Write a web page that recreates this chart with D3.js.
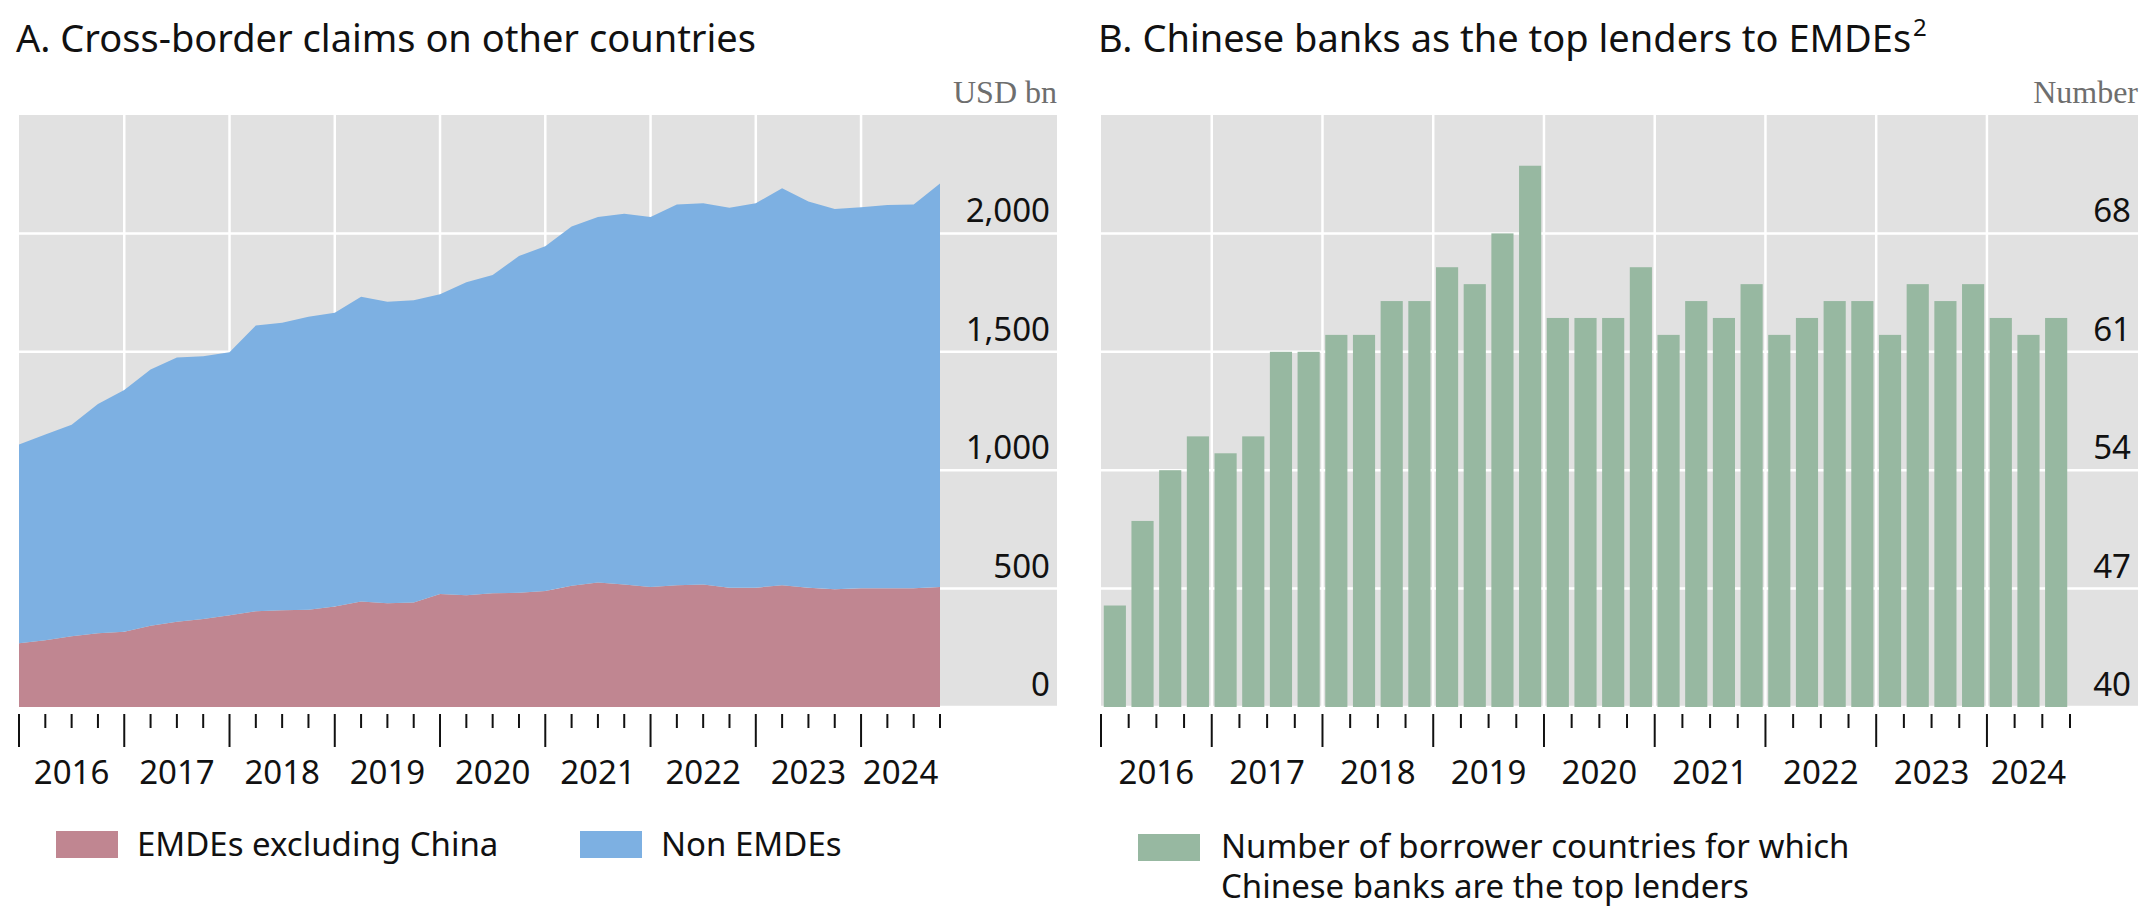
<!DOCTYPE html>
<html lang="en">
<head>
<meta charset="UTF-8">
<title>Chinese banks cross-border lending</title>
<script src="https://d3js.org/d3.v7.min.js"></script>
<style>
  body { margin: 0; background: #fff; font-family: "Noto Sans", "Open Sans", sans-serif; }
  .unit { font-family: "Liberation Serif", serif; fill: #6e6e6e; }
</style>
</head>
<body>
<div id="chart"></div>
<script>
// quarterly, 2016Q1 .. 2024Q4 (panel A), USD bn
const emdeExChina = [269, 282, 299, 311, 318, 343, 360, 372, 387, 404, 409, 411,
  424, 446, 438, 441, 477, 472, 480, 482, 490, 512, 526, 517,
  507, 514, 517, 504, 504, 514, 504, 497, 502, 502, 502, 507];
const totalClaims = [1109, 1151, 1192, 1280, 1339, 1425, 1476, 1481, 1498, 1611, 1623, 1648,
  1665, 1733, 1711, 1718, 1743, 1794, 1824, 1905, 1946, 2029, 2069, 2083,
  2069, 2122, 2127, 2108, 2127, 2191, 2135, 2103, 2110, 2120, 2122, 2211];
const nonEmde = totalClaims.map((t, i) => t - emdeExChina[i]);

// quarterly, 2016Q1 .. 2024Q3 (panel B)
const topLenderCount = [46, 51, 54, 56, 55, 56, 61, 61, 62, 62, 64, 64,
  66, 65, 68, 72, 63, 63, 63, 66, 62, 64, 63, 65,
  62, 63, 64, 64, 62, 65, 64, 65, 63, 62, 63];

const years = ["2016", "2017", "2018", "2019", "2020", "2021", "2022", "2023", "2024"];
const ticksA = [0, 500, 1000, 1500, 2000];
const ticksB = [40, 47, 54, 61, 68];

const BG = "#e1e1e1", BLUE = "#7db0e2", RED = "#c08691", GREEN = "#97b8a1";

const svg = d3.select("#chart").append("svg")
    .attr("width", 2142).attr("height", 906);

const plotTop = 115, plotBottom = 707, tickFont = 33;

function frame(x0, x1, title, unit) {
    svg.append("rect").attr("x", x0).attr("y", plotTop)
        .attr("width", x1 - x0).attr("height", plotBottom - plotTop).attr("fill", BG);
    const t = svg.append("text").attr("x", x0 - 3).attr("y", 52)
        .attr("font-size", 38).attr("fill", "#111").text(title);
    svg.append("text").attr("class", "unit").attr("x", x1).attr("y", 103)
        .attr("text-anchor", "end").attr("font-size", 32).text(unit);
    return t;
}

function yearTicks(g, positions, yearStep) {
    positions.forEach((x, i) => {
        const major = i % yearStep === 0;
        g.append("line").attr("x1", x).attr("x2", x)
            .attr("y1", 714).attr("y2", major ? 747 : 728)
            .attr("stroke", "#111").attr("stroke-width", 2);
    });
}

// ---------- Panel A ----------
{
    const x0 = 19, xEnd = 940, x1 = 1057;
    frame(x0, x1, "A. Cross-border claims on other countries", "USD bn");
    const x = d3.scaleLinear().domain([0, 35]).range([x0, xEnd]);
    const y = d3.scaleLinear().domain([0, 2500]).range([plotBottom, plotTop]);

    ticksA.forEach(t => {
        svg.append("line").attr("x1", x0).attr("x2", x1)
            .attr("y1", y(t)).attr("y2", y(t)).attr("stroke", "#fff").attr("stroke-width", 2.5);
    });
    for (let i = 4; i < 36; i += 4) {
        svg.append("line").attr("x1", x(i)).attr("x2", x(i))
            .attr("y1", plotTop).attr("y2", plotBottom).attr("stroke", "#fff").attr("stroke-width", 2.5);
    }

    const stacked = d3.stack().keys(["emde", "non"])(
        emdeExChina.map((e, i) => ({ emde: e, non: nonEmde[i] })));
    const area = d3.area().x((d, i) => x(i)).y0(d => y(d[0])).y1(d => y(d[1]));
    svg.selectAll(".areaA").data(stacked).enter().append("path")
        .attr("d", area).attr("fill", (d, i) => i === 0 ? RED : BLUE);

    ticksA.forEach(t => {
        svg.append("text").attr("x", 1050).attr("y", y(t) - 11)
            .attr("text-anchor", "end").attr("font-size", tickFont).attr("fill", "#111")
            .text(d3.format(",")(t));
    });

    const g = svg.append("g");
    yearTicks(g, d3.range(36).map(x), 4);
    years.forEach((yr, i) => {
        const xs = x(i * 4), xe = i === 8 ? xEnd : x(i * 4 + 4);
        svg.append("text").attr("x", (xs + xe) / 2).attr("y", 784)
            .attr("text-anchor", "middle").attr("font-size", tickFont).attr("fill", "#111").text(yr);
    });

    const legA = [["EMDEs excluding China", RED, 56], ["Non EMDEs", BLUE, 580]];
    legA.forEach(([label, c, lx]) => {
        svg.append("rect").attr("x", lx).attr("y", 831).attr("width", 62).attr("height", 27).attr("fill", c);
        svg.append("text").attr("x", lx + 81).attr("y", 856)
            .attr("font-size", tickFont).attr("fill", "#111").text(label);
    });
}

// ---------- Panel B ----------
{
    const x0 = 1101, xEnd = 2070, x1 = 2138;
    const title = frame(x0, x1, "B. Chinese banks as the top lenders to EMDEs", "Number");
    const w = title.node().getComputedTextLength();
    svg.append("text").attr("x", x0 - 3 + w + 2).attr("y", 36)
        .attr("font-size", 24).attr("fill", "#111").text("2");

    const xb = d3.scaleBand().domain(d3.range(35)).range([x0, xEnd]).padding(0.2).paddingOuter(0.1);
    const step = (xEnd - x0) / 35;
    const y = d3.scaleLinear().domain([40, 75]).range([plotBottom, plotTop]);

    ticksB.forEach(t => {
        svg.append("line").attr("x1", x0).attr("x2", x1)
            .attr("y1", y(t)).attr("y2", y(t)).attr("stroke", "#fff").attr("stroke-width", 2.5);
    });
    for (let i = 4; i < 36; i += 4) {
        svg.append("line").attr("x1", x0 + i * step).attr("x2", x0 + i * step)
            .attr("y1", plotTop).attr("y2", plotBottom).attr("stroke", "#fff").attr("stroke-width", 2.5);
    }

    svg.selectAll(".bar").data(topLenderCount).enter().append("rect")
        .attr("x", (d, i) => xb(i)).attr("width", xb.bandwidth())
        .attr("y", d => y(d)).attr("height", d => plotBottom - y(d)).attr("fill", GREEN);

    ticksB.forEach(t => {
        svg.append("text").attr("x", 2131).attr("y", y(t) - 11)
            .attr("text-anchor", "end").attr("font-size", tickFont).attr("fill", "#111").text(t);
    });

    const g = svg.append("g");
    yearTicks(g, d3.range(36).map(i => x0 + i * step), 4);
    years.forEach((yr, i) => {
        const xs = x0 + i * 4 * step, xe = i === 8 ? xEnd : x0 + (i * 4 + 4) * step;
        svg.append("text").attr("x", (xs + xe) / 2).attr("y", 784)
            .attr("text-anchor", "middle").attr("font-size", tickFont).attr("fill", "#111").text(yr);
    });

    svg.append("rect").attr("x", 1138).attr("y", 834).attr("width", 62).attr("height", 27).attr("fill", GREEN);
    svg.append("text").attr("x", 1221).attr("y", 858).attr("font-size", tickFont).attr("fill", "#111")
        .text("Number of borrower countries for which");
    svg.append("text").attr("x", 1221).attr("y", 898).attr("font-size", tickFont).attr("fill", "#111")
        .text("Chinese banks are the top lenders");
}
</script>
</body>
</html>
